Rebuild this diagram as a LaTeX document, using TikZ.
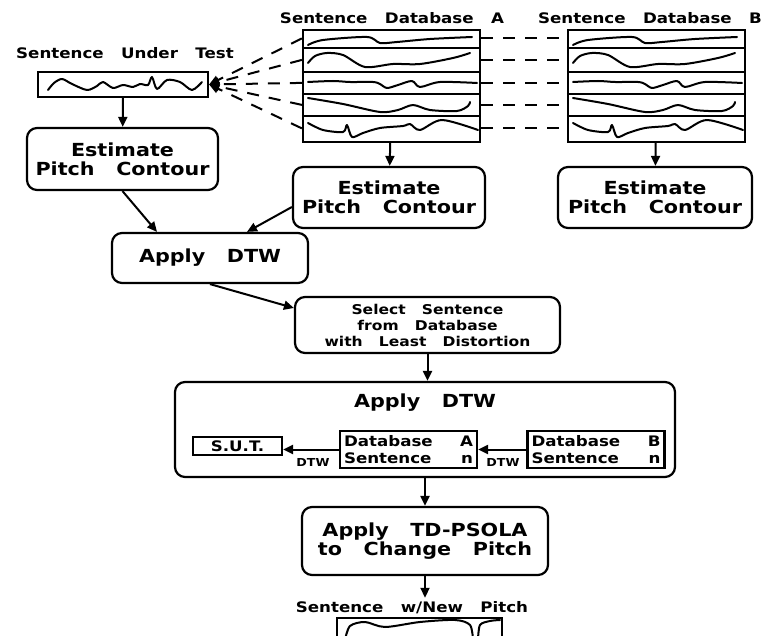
\documentclass[tikz,border=0pt]{standalone}
\usepackage{fontspec}
\setmainfont{DejaVu Sans}[FakeStretch=1.15,WordSpace=3]
\usetikzlibrary{arrows.meta}

\tikzset{
 box/.style={draw,line width=2.2pt,inner sep=0pt,align=center},
 rbox/.style={box,rounded corners=10pt},
 lbl/.style={font=\bfseries\fontsize{14.5}{16}\selectfont},
 bigtxt/.style={font=\bfseries\fontsize{18}{19}\selectfont},
 midtxt/.style={font=\bfseries\fontsize{13.5}{16}\selectfont},
 dbtxt/.style={font=\bfseries\fontsize{14.5}{16.7}\selectfont,text width=129pt,inner xsep=4pt,align=left},
 tinytxt/.style={font=\bfseries\fontsize{11}{12}\selectfont},
 arr/.style={line width=2pt,-{Triangle[length=10pt,width=9pt]}},
 link/.style={line width=2pt,dash pattern=on 12pt off 10pt},
 wave/.style={line width=2pt,line join=round,line cap=round}
}

% pitch contours of the five database sentences
\newcommand\pitchrows{
 \draw[wave] plot[smooth,tension=0.5] coordinates {(5,45) (20,40) (64,37) (77,43) (94,42) (127,39) (169,37)};
 \draw[wave] plot[smooth,tension=0.5] coordinates {(5,63) (12,56) (24,53) (40,55) (62,67) (90,64) (117,64) (150,58) (167,53)};
 \draw[wave] plot[smooth,tension=0.5] coordinates {(5,82) (30,81) (47,82) (70,82) (77,84) (84,88) (95,85) (109,81) (117,87) (137,82) (174,83)};
 \draw[wave] plot[smooth,tension=0.5] coordinates {(5,98) (40,104) (77,112) (95,110) (110,105) (127,110) (154,111) (165,106) (167,102)};
 \draw[wave] plot[smooth,tension=0.5] coordinates {(5,123) (20,130) (40,132) (44,125) (49,137) (60,133) (77,128) (100,126) (107,124) (117,130) (139,120) (175,130)};
}

\begin{document}
\begin{tikzpicture}[x=1pt,y=-1pt]
 \useasboundingbox (0,0) rectangle (766,636);
 \clip (0,0) rectangle (766,636);

 % sentence under test
 \node[lbl] (sutlbl) at (125,53) {Sentence Under Test};
 \node[box,minimum width=170pt,minimum height=25pt] (sut) at (123,84.5) {};
 \draw[wave] plot[smooth,tension=0.5] coordinates {(48,90) (54,83) (62,79) (72,84) (87,90) (97,86) (103,82) (113,88) (123,85) (133,87) (140,84) (148,85) (152,77) (157,89) (167,80) (180,82) (192,90) (202,82)};

 % the two databases
 \node[lbl] (dbAlbl) at (392,18) {Sentence Database A};
 \node[lbl] (dbBlbl) at (650,18) {Sentence Database B};
 \node[box,minimum width=177pt,minimum height=112pt] (dbA) at (391.5,86) {};
 \node[box,minimum width=177pt,minimum height=112pt] (dbB) at (656.5,86) {};
 \foreach \d in {19,43,65,87} {
  \draw[line width=2.2pt] ([yshift=-\d pt]dbA.north west) -- ([yshift=-\d pt]dbA.north east);
  \draw[line width=2.2pt] ([yshift=-\d pt]dbB.north west) -- ([yshift=-\d pt]dbB.north east);
 }
 \begin{scope}[shift={(303,0)}] \pitchrows \end{scope}
 \begin{scope}[shift={(568,0)}] \pitchrows \end{scope}
 \foreach \m in {9.5,31,54,76,99.5} {
  \draw[link,-{Triangle[length=10pt,width=9pt]}] ([yshift=-\m pt]dbA.north west) -- (sut.east);
  \draw[link] ([yshift=-\m pt]dbA.north east) -- ([yshift=-\m pt]dbB.north west);
 }

 % pitch estimation
 \node[rbox,bigtxt,minimum width=191pt,minimum height=62pt] (est1) at (122.5,159) {Estimate\\Pitch Contour};
 \node[rbox,bigtxt,minimum width=192pt,minimum height=61pt] (est2) at (389,197.5) {Estimate\\Pitch Contour};
 \node[rbox,bigtxt,minimum width=194pt,minimum height=61pt] (est3) at (655,197.5) {Estimate\\Pitch Contour};
 \draw[arr] (sut) -- (est1);
 \draw[arr] (dbA) -- (est2);
 \draw[arr] (dbB) -- (est3);

 \node[rbox,bigtxt,minimum width=196pt,minimum height=50pt] (dtw1) at (210,258) {Apply DTW};
 \draw[arr] (est1.south) -- ([xshift=-53pt]dtw1.north);
 \draw[arr] ([yshift=-9.5pt]est2.west) -- ([xshift=37pt]dtw1.north);

 \node[rbox,midtxt,minimum width=265pt,minimum height=56pt] (sel) at (427.5,325) {Select Sentence\\from Database\\with Least Distortion};
 \draw[arr] (dtw1.south) -- ([yshift=17pt]sel.west);

 % second alignment
 \node[rbox,minimum width=500pt,minimum height=95pt] (big) at (425,429.5) {};
 \node[bigtxt] (bigttl) at (425,403) {Apply DTW};
 \draw[arr] (sel.south) -- (sel.south |- big.north);
 \node[box,lbl,minimum width=89pt,minimum height=18pt] (sutsm) at (237.5,446) {S.U.T.};
 \node[box,dbtxt,minimum height=37pt] (dba) at (408.5,449.5) {Database\hfill A\\Sentence\hfill n};
 \node[box,dbtxt,minimum height=37pt] (dbb) at (596,449.5) {Database\hfill B\\Sentence\hfill n};
 \draw[arr] (dba.west) -- (dba.west -| sutsm.east);
 \draw[arr] (dbb.west) -- (dba.east);
 \node[tinytxt] (dtwa) at (313,462) {DTW};
 \node[tinytxt] (dtwb) at (503,462) {DTW};

 % pitch modification
 \node[rbox,bigtxt,minimum width=246pt,minimum height=68pt] (psola) at (425,541) {Apply TD-PSOLA\\to Change Pitch};
 \draw[arr] (big.south) -- (psola.north);
 \node[lbl] (newlbl) at (412,607.5) {Sentence w/New Pitch};
 \draw[arr] (psola.south) -- (psola.south |- newlbl.north);
 \node[box,minimum width=165pt,minimum height=34pt,anchor=north] (newbox) at (419.5,617) {};
 \draw[wave] plot[smooth,tension=0.5] coordinates {(345,640) (350,626) (365,622) (385,627) (420,622) (455,620) (470,625) (473,640)};
 \draw[wave] plot[smooth,tension=0.5] coordinates {(478,640) (480,625) (490,621) (500,620)};
\end{tikzpicture}
\end{document}
